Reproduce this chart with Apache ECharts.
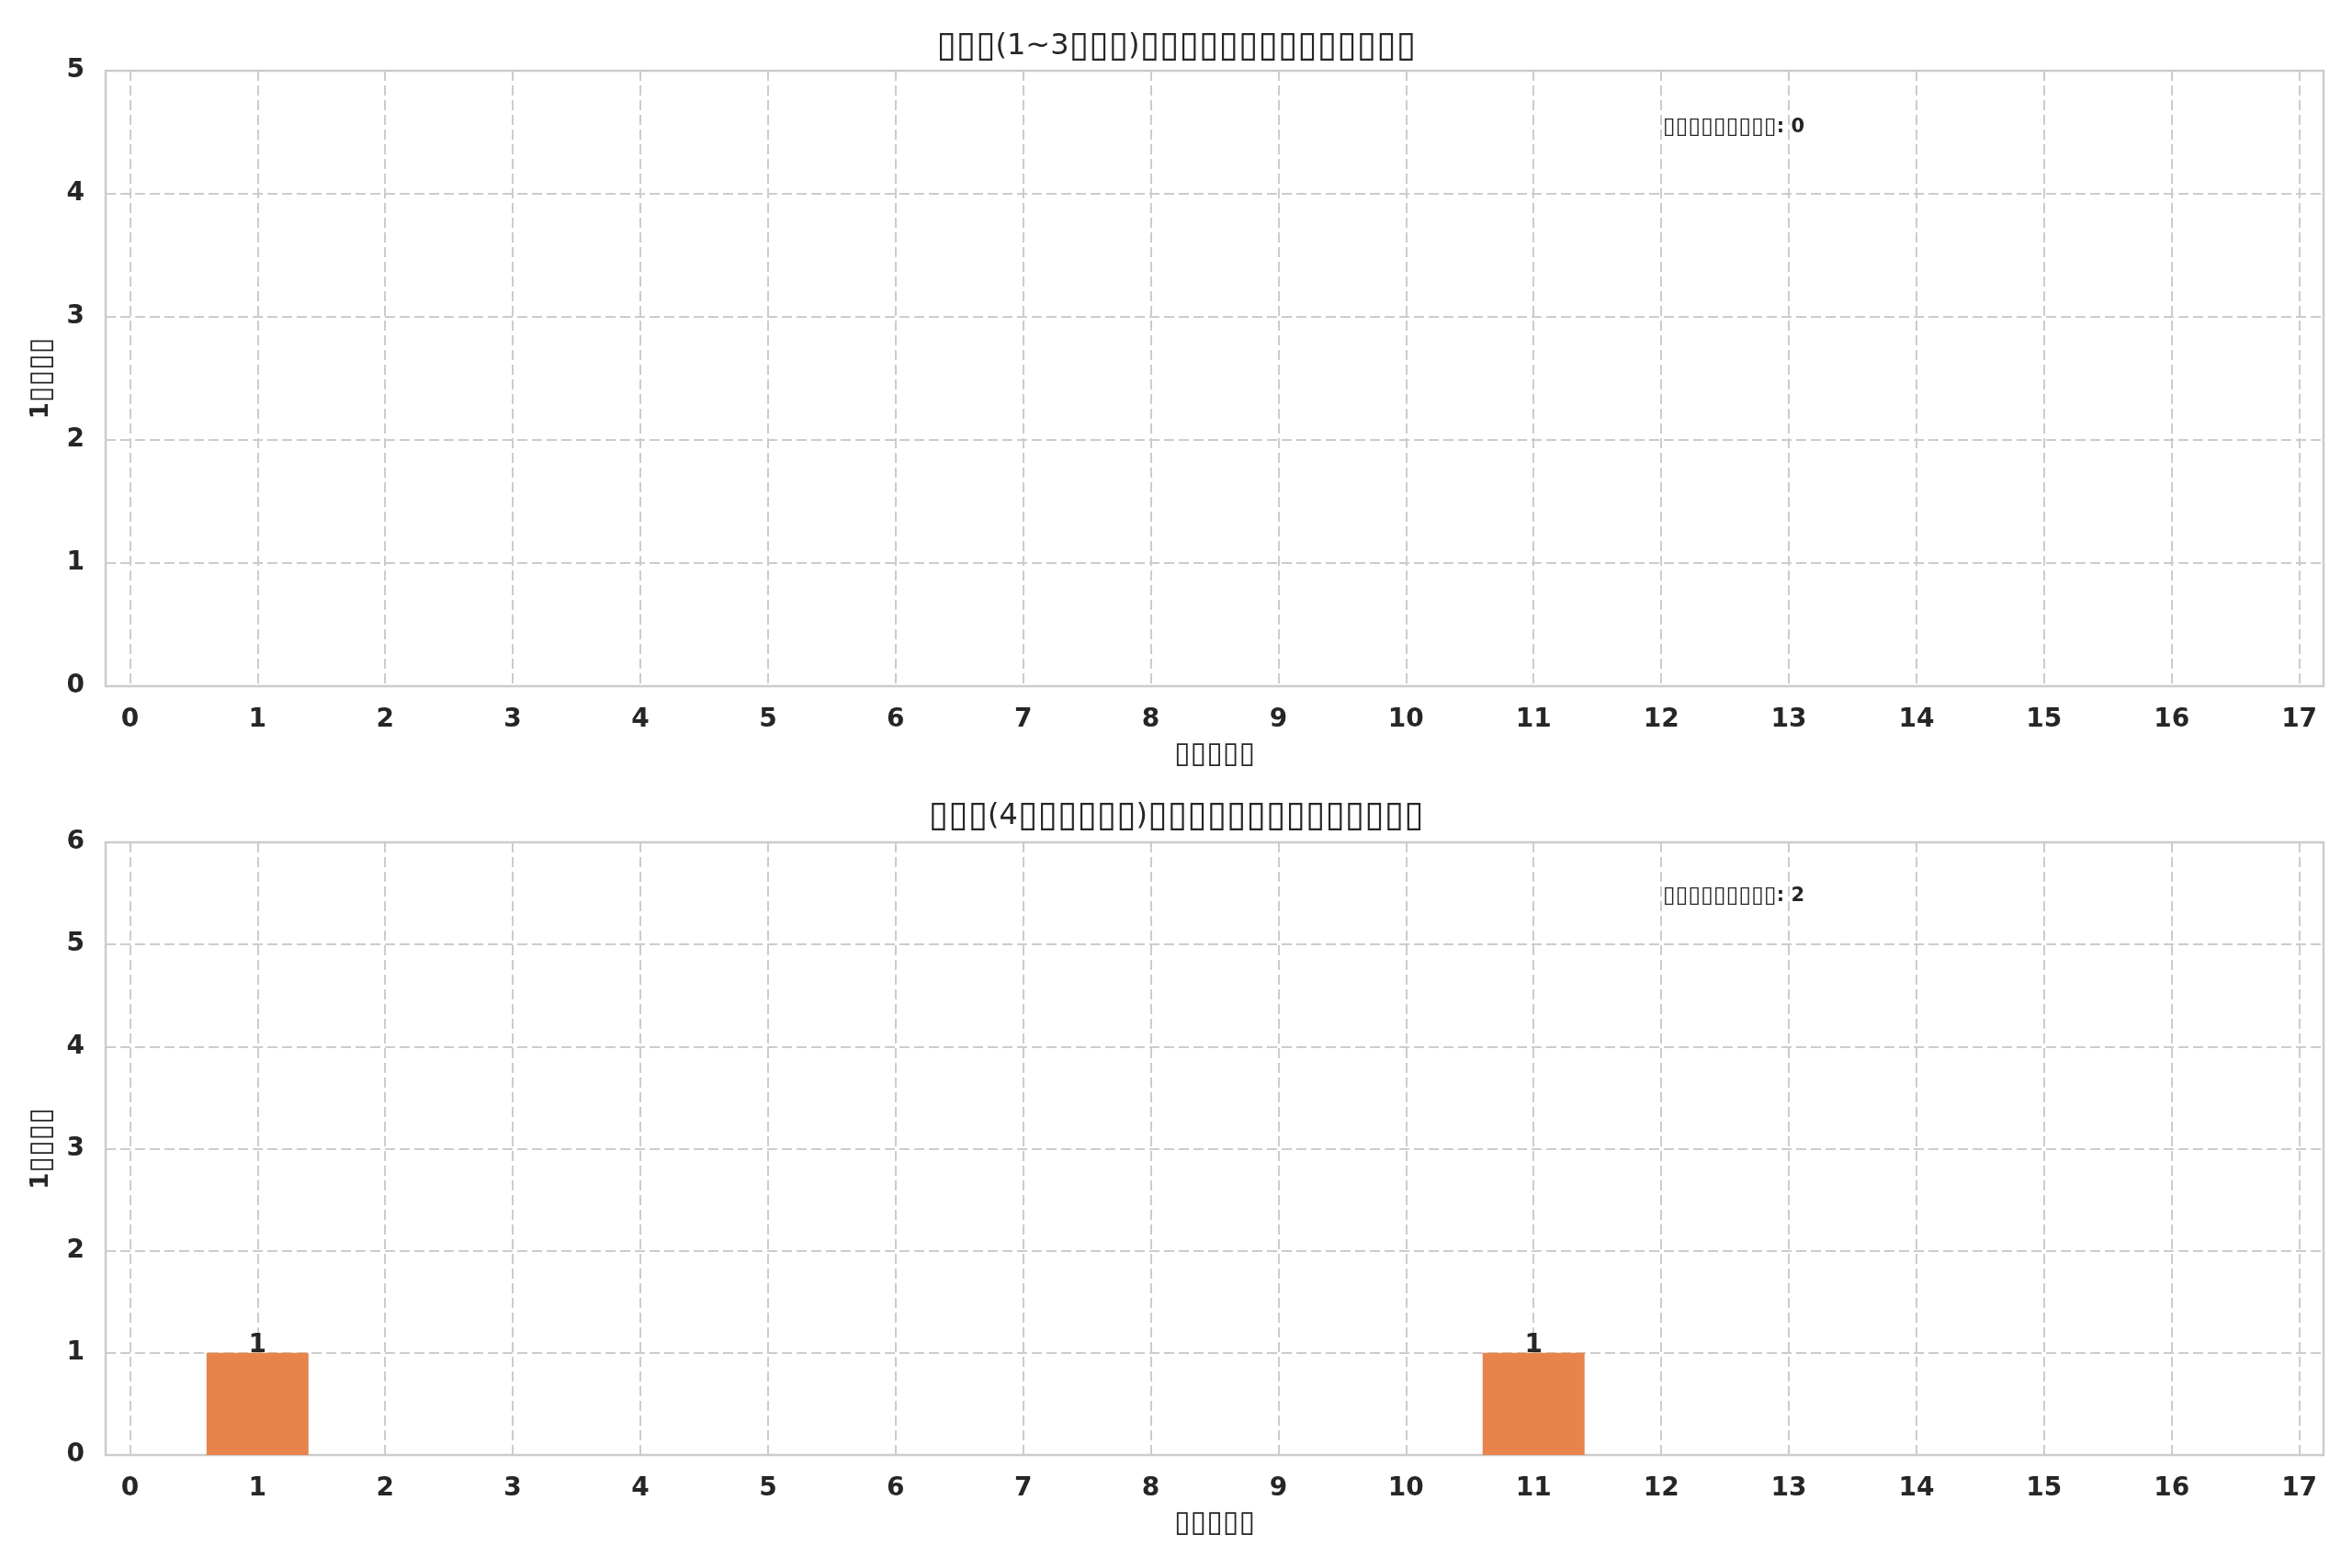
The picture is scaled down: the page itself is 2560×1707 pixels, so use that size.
<!DOCTYPE html>
<html>
<head>
<meta charset="utf-8">
<script src="https://cdn.jsdelivr.net/npm/echarts@6/dist/echarts.min.js"></script>
<style>
html,body{margin:0;padding:0;background:#fff;}
#chart{width:2560px;height:1707px;}
</style>
</head>
<body>
<div id="chart"></div>
<script>
// ---- data ----
const xTicks = [0,1,2,3,4,5,6,7,8,9,10,11,12,13,14,15,16,17];
const countsEarly = [0,0,0,0,0,0,0,0,0,0,0,0,0,0,0,0,0,0];
const countsLate  = [0,1,0,0,0,0,0,0,0,0,0,1,0,0,0,0,0,0];
const yTicksTop = [0,1,2,3,4,5];
const yTicksBottom = [0,1,2,3,4,5,6];
const titleTop = "▯▯▯(1~3▯▯▯)▯▯▯▯▯▯▯▯▯▯▯▯▯▯";
const titleBottom = "▯▯▯(4▯▯▯▯▯▯)▯▯▯▯▯▯▯▯▯▯▯▯▯▯";
const xName = "▯▯▯▯▯";
const yName = "1▯▯▯▯";
const notePrefix = "▯▯▯▯▯▯▯▯▯: ";
const totalEarly = 0;
const totalLate = 2;

// ---- style ----
const FONT = "DejaVu Sans";
const TXT = "#262626";
const GRIDC = "#cccccc";
const BAR = "#E8834C";
const BOXSCALE = 1.29;

// wrap runs of missing-glyph boxes in a rich style so they get the width of the original tofu
function boxed(s){ return s.replace(/(▯+)/g, '{b|$1}'); }
function richFor(size, weight){
  return { b:{fontFamily:FONT, fontSize:Math.round(size*BOXSCALE), fontWeight:weight, color:TXT} };
}

const chart = echarts.init(document.getElementById('chart'), null, {renderer:'canvas'});

function xAxisCfg(gi){
  return {
    type:'value', gridIndex:gi, min:-0.19, max:17.19,
    axisLine:{show:false}, axisTick:{show:false, customValues:xTicks},
    axisLabel:{customValues:xTicks, color:TXT, fontFamily:FONT, fontWeight:'bold', fontSize:28, margin:23},
    splitLine:{show:true, lineStyle:{color:GRIDC, width:2, type:[11,5]}},
    name:boxed(xName), nameLocation:'middle', nameGap:59,
    nameTextStyle:{color:TXT, fontFamily:FONT, fontWeight:'bold', fontSize:25, rich:richFor(25,'bold')}
  };
}
function yAxisCfg(gi, ticks){
  return {
    type:'value', gridIndex:gi, min:ticks[0], max:ticks[ticks.length-1], interval:1,
    axisLine:{show:false}, axisTick:{show:false},
    axisLabel:{color:TXT, fontFamily:FONT, fontWeight:'bold', fontSize:28, margin:23},
    splitLine:{show:true, lineStyle:{color:GRIDC, width:2, type:[11,5]}},
    name:boxed(yName), nameLocation:'middle', nameGap:52, nameRotate:90,
    nameTextStyle:{color:TXT, fontFamily:FONT, fontWeight:'bold', fontSize:26, rich:richFor(25,'bold')}
  };
}
function barSeries(idx, vals){
  return {
    type:'bar', xAxisIndex:idx, yAxisIndex:idx,
    data: xTicks.map((x,i)=>[x, vals[i]]),
    barWidth:111,
    itemStyle:{color:BAR, borderWidth:0},
    label:{show:true, position:'top', distance:-6, color:TXT, fontFamily:FONT, fontWeight:'bold', fontSize:28,
      formatter:p=> p.value[1] > 0 ? String(p.value[1]) : ''},
    silent:true
  };
}

chart.setOption({
  backgroundColor:'#fff',
  animation:false,
  title:[
    {text:boxed(titleTop), left:'center', top:26, textStyle:{color:TXT, fontFamily:FONT, fontWeight:'normal', fontSize:32, rich:richFor(30,'normal')}},
    {text:boxed(titleBottom), left:'center', top:864, textStyle:{color:TXT, fontFamily:FONT, fontWeight:'normal', fontSize:32, rich:richFor(30,'normal')}},
    {text:boxed(notePrefix) + totalEarly, left:1805, top:121, textStyle:{color:TXT, fontFamily:FONT, fontWeight:'bold', fontSize:21, rich:richFor(19,'bold')}},
    {text:boxed(notePrefix) + totalLate, left:1805, top:958, textStyle:{color:TXT, fontFamily:FONT, fontWeight:'bold', fontSize:21, rich:richFor(19,'bold')}}
  ],
  grid:[
    {left:115, right:31, top:77, height:670, show:true, borderColor:GRIDC, borderWidth:2.5, backgroundColor:'#fff'},
    {left:115, right:31, top:917, height:667, show:true, borderColor:GRIDC, borderWidth:2.5, backgroundColor:'#fff'}
  ],
  xAxis:[xAxisCfg(0), xAxisCfg(1)],
  yAxis:[yAxisCfg(0, yTicksTop), yAxisCfg(1, yTicksBottom)],
  series:[barSeries(0, countsEarly), barSeries(1, countsLate)]
});
</script>
</body>
</html>
